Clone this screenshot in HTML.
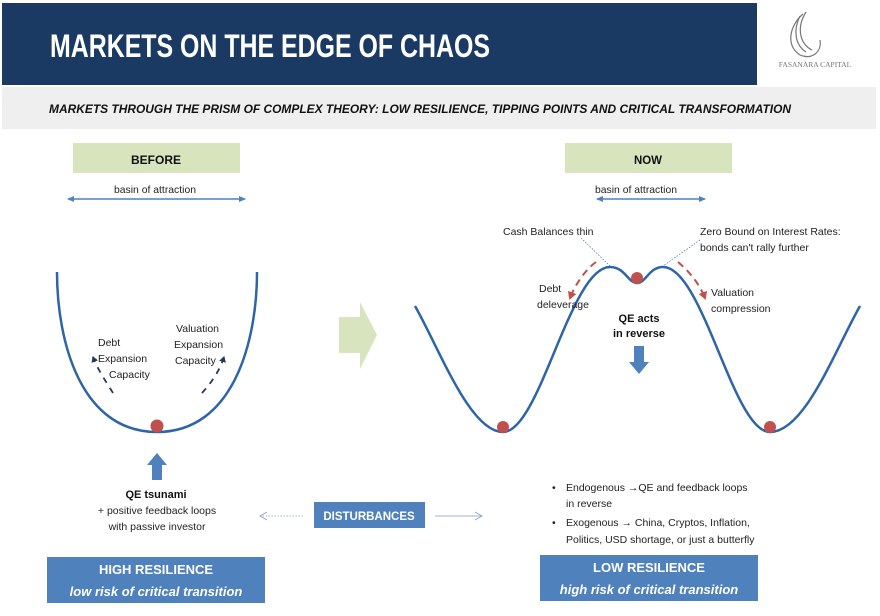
<!DOCTYPE html>
<html><head><meta charset="utf-8"><style>
html,body{margin:0;padding:0;background:#fff;}
svg{display:block;font-family:"Liberation Sans",Arial,sans-serif;}
</style></head><body>
<svg width="880" height="616" viewBox="0 0 880 616" xmlns="http://www.w3.org/2000/svg">
<defs>
<marker id="ab" markerWidth="8" markerHeight="8" refX="6" refY="4" orient="auto-start-reverse" markerUnits="userSpaceOnUse"><path d="M0,1 L7,4 L0,7 z" fill="#4f81bd"/></marker>
<marker id="ar" markerWidth="9" markerHeight="9" refX="6" refY="4.5" orient="auto" markerUnits="userSpaceOnUse"><path d="M0,0 L8,4.5 L0,9 z" fill="#c0504d"/></marker>
<marker id="an" markerWidth="7" markerHeight="7" refX="5" refY="3.5" orient="auto" markerUnits="userSpaceOnUse"><path d="M0,0 L6,3.5 L0,7 z" fill="#1f3864"/></marker>
<marker id="ag" markerWidth="10" markerHeight="10" refX="8" refY="5" orient="auto" markerUnits="userSpaceOnUse"><path d="M1,1 L8,5 L1,9" fill="none" stroke="#7f9fc8" stroke-width="0.8"/></marker>
</defs>
<rect x="2" y="3" width="755" height="82" fill="#1b3a63"/>
<text x="50" y="57" font-size="32" font-weight="bold" fill="#fff" textLength="440" lengthAdjust="spacingAndGlyphs">MARKETS ON THE EDGE OF CHAOS</text>
<g fill="none" stroke="#777" stroke-width="1.2">
<path d="M803,14 C790,25 785,45 800,55 C812,60 822,52 820,40"/>
<path d="M800,16 C793,30 795,45 806,52"/>
<path d="M806,12 C796,28 800,44 812,50"/>
</g>
<text x="815" y="67" font-size="7.5" fill="#777" text-anchor="middle" font-family="Liberation Serif,serif">FASANARA CAPITAL</text>
<rect x="2" y="87" width="874" height="42" fill="#efefef"/>
<text x="49" y="113" font-size="12" font-weight="bold" font-style="italic" fill="#111" textLength="742" lengthAdjust="spacingAndGlyphs">MARKETS THROUGH THE PRISM OF COMPLEX THEORY: LOW RESILIENCE, TIPPING POINTS AND CRITICAL TRANSFORMATION</text>
<rect x="73" y="143" width="167" height="30" fill="#d8e4bd"/>
<text x="156" y="164" font-size="12" font-weight="bold" text-anchor="middle" fill="#111" textLength="50" lengthAdjust="spacingAndGlyphs">BEFORE</text>
<rect x="565" y="143" width="167" height="30" fill="#d8e4bd"/>
<text x="648" y="164" font-size="12" font-weight="bold" text-anchor="middle" fill="#111" textLength="28" lengthAdjust="spacingAndGlyphs">NOW</text>
<text x="155" y="193" font-size="10.5" text-anchor="middle" fill="#222" textLength="82" lengthAdjust="spacingAndGlyphs">basin of attraction</text>
<line x1="68" y1="199" x2="245" y2="199" stroke="#4f81bd" stroke-width="1.5" marker-start="url(#ab)" marker-end="url(#ab)"/>
<text x="636" y="193" font-size="10.5" text-anchor="middle" fill="#222" textLength="82" lengthAdjust="spacingAndGlyphs">basin of attraction</text>
<line x1="597" y1="199" x2="705" y2="199" stroke="#4f81bd" stroke-width="1.5" marker-start="url(#ab)" marker-end="url(#ab)"/>
<path d="M57,272 C57,340 80,432 157,432 C234,432 257,340 257,272" fill="none" stroke="#2e64a8" stroke-width="2.5"/>
<circle cx="157" cy="426" r="6.5" fill="#c0504d"/>
<path d="M113,393 C105,380 98,370 93,357" fill="none" stroke="#1f3864" stroke-width="1.8" stroke-dasharray="6,6" marker-end="url(#an)"/>
<path d="M202,393 C212,382 220,370 224,357" fill="none" stroke="#1f3864" stroke-width="1.8" stroke-dasharray="6,6" marker-end="url(#an)"/>
<g font-size="10.5" fill="#222">
<text x="98" y="346">Debt</text><text x="98" y="362">Expansion</text><text x="109" y="378">Capacity</text>
<text x="176" y="332">Valuation</text><text x="174" y="348">Expansion</text><text x="175" y="364">Capacity</text>
</g>
<path d="M339,317 L360,317 L360,302 L377,335 L360,369 L360,353 L339,353 z" fill="#d8e4bd"/>
<path d="M415,306 C440,350 470,432 503,432 C540,432 570,267 610,267 C625,267 628,283 637,283 C646,283 649,267 663,267 C703,267 733,432 770,432 C805,432 835,350 860,306" fill="none" stroke="#2e64a8" stroke-width="2.5"/>
<circle cx="503" cy="427" r="6" fill="#c0504d"/>
<circle cx="770" cy="427" r="6" fill="#c0504d"/>
<circle cx="637" cy="278" r="6" fill="#c0504d"/>
<path d="M596,262 C585,270 575,285 570,298" fill="none" stroke="#c0504d" stroke-width="2" stroke-dasharray="7,5" marker-end="url(#ar)"/>
<path d="M678,262 C690,272 700,285 705,298" fill="none" stroke="#c0504d" stroke-width="2" stroke-dasharray="7,5" marker-end="url(#ar)"/>
<line x1="581" y1="238" x2="610" y2="266" stroke="#4f81bd" stroke-width="0.8" stroke-dasharray="1.5,1.5"/>
<line x1="700" y1="240" x2="663" y2="266" stroke="#4f81bd" stroke-width="0.8" stroke-dasharray="1.5,1.5"/>
<g font-size="10.5" fill="#222">
<text x="503" y="235">Cash Balances thin</text>
<text x="700" y="235">Zero Bound on Interest Rates:</text>
<text x="700" y="251">bonds can't rally further</text>
<text x="539" y="292">Debt</text><text x="537" y="308">deleverage</text>
<text x="711" y="296">Valuation</text><text x="711" y="312">compression</text>
</g>
<text x="639" y="322" font-size="11" font-weight="bold" text-anchor="middle" fill="#111">QE acts</text>
<text x="639" y="337" font-size="11" font-weight="bold" text-anchor="middle" fill="#111">in reverse</text>
<path d="M634,346 L644,346 L644,362 L649,362 L639,374 L629,362 L634,362 z" fill="#4f81bd"/>
<path d="M152,480 L162,480 L162,465 L167,465 L157,453 L147,465 L152,465 z" fill="#4f81bd"/>
<text x="156" y="498" font-size="11" font-weight="bold" text-anchor="middle" fill="#111">QE tsunami</text>
<text x="157" y="514" font-size="10.5" text-anchor="middle" fill="#222">+ positive feedback loops</text>
<text x="157" y="530" font-size="10.5" text-anchor="middle" fill="#222">with passive investor</text>
<rect x="314" y="502" width="111" height="26" fill="#4f81bd"/>
<text x="369" y="520" font-size="11.5" font-weight="bold" text-anchor="middle" fill="#fff">DISTURBANCES</text>
<line x1="303" y1="516" x2="260" y2="516" stroke="#7f9fc8" stroke-width="0.8" stroke-dasharray="1.5,1.5" marker-end="url(#ag)"/>
<line x1="435" y1="516" x2="482" y2="516" stroke="#7f9fc8" stroke-width="0.8" marker-end="url(#ag)"/>
<g font-size="10.5" fill="#222">
<text x="552" y="491">•</text><text x="566" y="491">Endogenous →QE and feedback loops</text>
<text x="566" y="507">in reverse</text>
<text x="552" y="526">•</text><text x="566" y="526">Exogenous →  China, Cryptos, Inflation,</text>
<text x="566" y="543">Politics, USD shortage, or just a butterfly</text>
</g>
<rect x="47" y="557" width="218" height="46" fill="#4f81bd"/>
<text x="156" y="574" font-size="13" font-weight="bold" text-anchor="middle" fill="#fff">HIGH RESILIENCE</text>
<text x="156" y="596" font-size="13" font-weight="bold" font-style="italic" text-anchor="middle" fill="#fff">low risk of critical transition</text>
<rect x="540" y="555" width="218" height="46" fill="#4f81bd"/>
<text x="649" y="572" font-size="13" font-weight="bold" text-anchor="middle" fill="#fff">LOW RESILIENCE</text>
<text x="649" y="594" font-size="13" font-weight="bold" font-style="italic" text-anchor="middle" fill="#fff">high risk of critical transition</text>
</svg>
</body></html>
